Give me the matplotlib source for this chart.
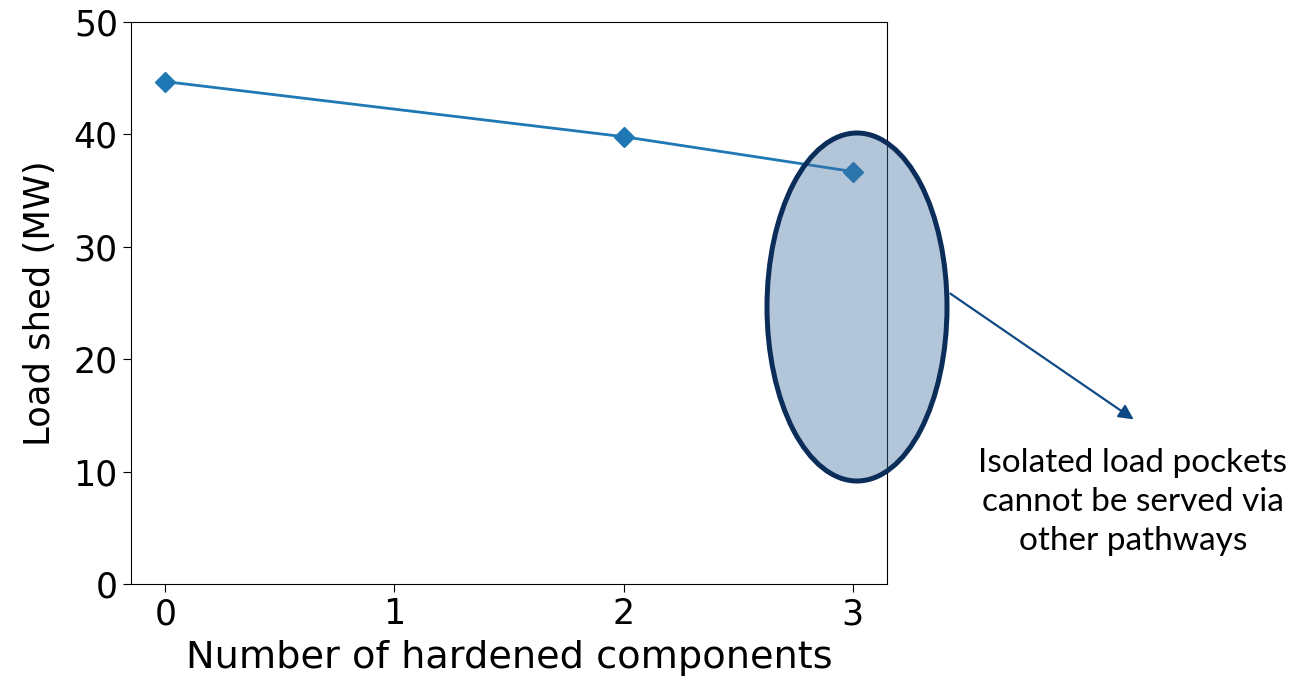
import matplotlib
matplotlib.use('Agg')
import matplotlib.pyplot as plt
from matplotlib.patches import Ellipse, FancyArrowPatch

# DATA
n_hardened = [0, 2, 3]
load_shed = [44.7, 39.8, 36.7]
y_ticks = [0, 10, 20, 30, 40, 50]
note = 'Isolated load pockets\ncannot be served via\nother pathways'

fig = plt.figure(figsize=(13.09, 6.8), dpi=100)
ax = fig.add_axes([0.1001, 0.1412, 0.5775, 0.8264])

# Add trace
ax.plot(n_hardened, load_shed, color='#1f77b4', marker='D', markersize=10, linewidth=2)

# Format axes
ax.set_xlim(-0.15, 3.15)
ax.set_ylim(0, 50)
ax.set_xticks([0, 1, 2, 3])
ax.set_yticks(y_ticks)
ax.tick_params(labelsize=25, length=6)
ax.set_xlabel('Number of hardened components', fontsize=27.5, labelpad=6)
ax.set_ylabel('Load shed (MW)', fontsize=25.5, labelpad=12)

# Highlight ellipse + callout (figure coords)
ell = Ellipse((857 / 1309, 1 - 307 / 680), 180 / 1309, 348 / 680,
              transform=fig.transFigure, facecolor=(0.255, 0.44, 0.63, 0.4),
              edgecolor='#0b2d59', linewidth=3.6, zorder=5)
fig.add_artist(ell)

arr = FancyArrowPatch((948 / 1309, 1 - 292 / 680), (1136 / 1309, 1 - 421 / 680),
                      transform=fig.transFigure, arrowstyle='-|>', mutation_scale=22,
                      color='#0f4a85', linewidth=1.6, zorder=5)
fig.add_artist(arr)

fig.text(1133 / 1309, 1 - 502 / 680, note, ha='center', va='center',
         fontsize=24, family='Lato', linespacing=1.38)

fig.savefig('out.png', dpi=100)
